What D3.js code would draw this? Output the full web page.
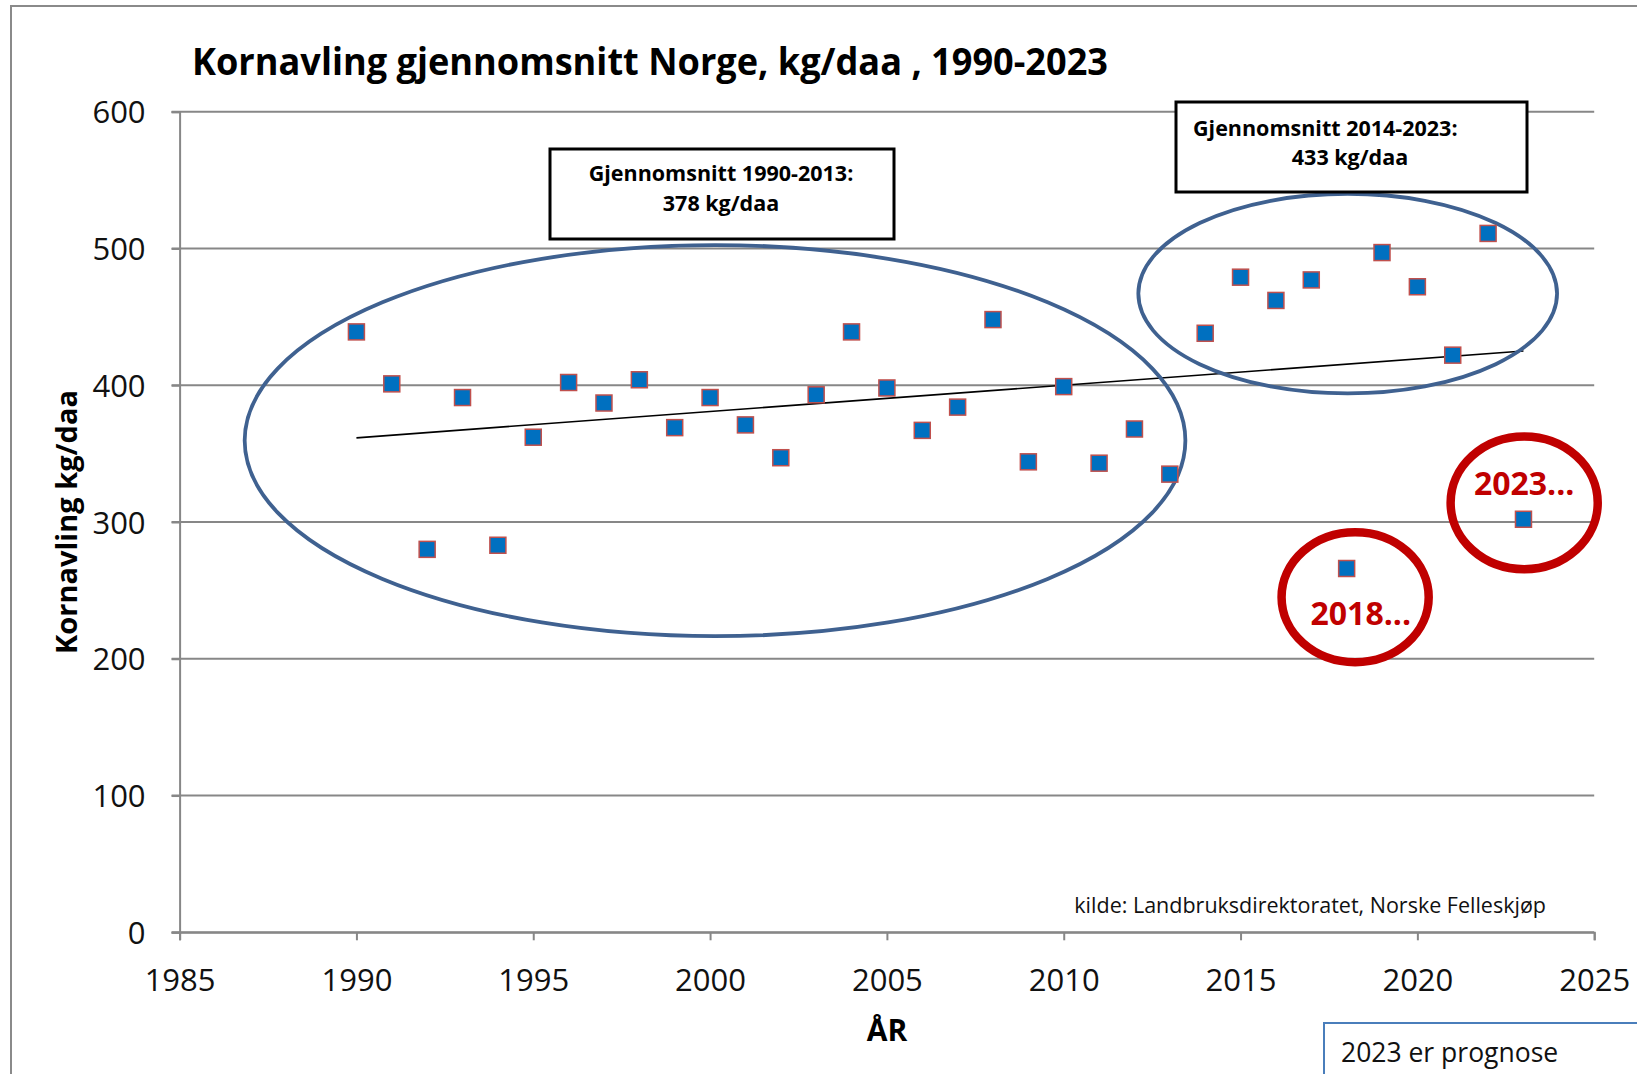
<!DOCTYPE html>
<html lang="no">
<head>
<meta charset="utf-8">
<title>Kornavling gjennomsnitt Norge</title>
<script src="https://d3js.org/d3.v7.min.js"></script>
<style>
  body { margin: 0; background: #fff; font-family: 'Open Sans', sans-serif; }
  svg { display: block; }
</style>
</head>
<body>
<div id="chart"></div>
<script>

/* Data */
/* ==== */

var years = [1990, 1991, 1992, 1993, 1994, 1995, 1996, 1997, 1998, 1999,
             2000, 2001, 2002, 2003, 2004, 2005, 2006, 2007, 2008, 2009,
             2010, 2011, 2012, 2013, 2014, 2015, 2016, 2017, 2018, 2019,
             2020, 2021, 2022, 2023];

var yields = [439, 401, 280, 391, 283, 362, 402, 387, 404, 369,
              391, 371, 347, 393, 439, 398, 367, 384, 448, 344,
              399, 343, 368, 335, 438, 479, 462, 477, 266, 497,
              472, 422, 511, 302];

var yTicks = [0, 100, 200, 300, 400, 500, 600];
var xTicks = [1985, 1990, 1995, 2000, 2005, 2010, 2015, 2020, 2025];

var titleText = 'Kornavling gjennomsnitt Norge, kg/daa , 1990-2023';
var box1Lines = ['Gjennomsnitt 1990-2013:', '378 kg/daa'];
var box2Lines = ['Gjennomsnitt 2014-2023:', '433 kg/daa'];
var redLabels = ['2018...', '2023...'];


/* Setup */
/* ===== */

var width = 1637,
    height = 1074;

var svg = d3.select('#chart').append('svg')
    .attr('width', width)
    .attr('height', height);

var x = d3.scaleLinear().domain([1985, 2025]).range([179.6, 1594.2]);
var y = d3.scaleLinear().domain([0, 600]).range([932.3, 111.7]);

var gridColor = '#878787';

// chart area border (cut off at right and bottom)
svg.append('path')
    .attr('d', 'M11,' + height + 'V6H' + width)
    .attr('fill', 'none')
    .attr('stroke', '#8a8a8a')
    .attr('stroke-width', 2);

// title
svg.append('text')
    .attr('x', 192)
    .attr('y', 75)
    .attr('font-size', 37)
    .attr('font-weight', 700)
    .attr('textLength', 916)
    .attr('lengthAdjust', 'spacingAndGlyphs')
    .text(titleText);


/* Grid and axes */
/* ============= */

svg.append('g').selectAll('line')
  .data(yTicks)
  .join('line')
    .attr('x1', x.range()[0] - 8)
    .attr('x2', x.range()[1])
    .attr('y1', d => y(d))
    .attr('y2', d => y(d))
    .attr('stroke', gridColor)
    .attr('stroke-width', 2);

var yAxis = svg.append('g')
    .attr('transform', 'translate(' + x.range()[0] + ',0)')
    .call(d3.axisLeft(y).tickValues(yTicks).tickSize(8).tickPadding(26));

var xAxis = svg.append('g')
    .attr('transform', 'translate(0,' + y(0) + ')')
    .call(d3.axisBottom(x).tickValues(xTicks).tickFormat(d3.format('d')).tickSize(8).tickPadding(28));

[yAxis, xAxis].forEach(function(g) {
  g.select('.domain').attr('stroke', gridColor).attr('stroke-width', 2);
  g.selectAll('.tick line').attr('stroke', gridColor).attr('stroke-width', 2);
  g.selectAll('.tick text')
    .attr('font-family', "'Open Sans', sans-serif")
    .attr('font-size', 31)
    .attr('fill', '#111');
});
yAxis.selectAll('.tick text').attr('dy', '0.36em');
xAxis.selectAll('.tick text').attr('dy', '0.72em');

// axis titles
svg.append('text')
    .attr('transform', 'translate(77,522) rotate(-90)')
    .attr('text-anchor', 'middle')
    .attr('font-size', 29)
    .attr('font-weight', 700)
    .text('Kornavling kg/daa');

svg.append('text')
    .attr('x', 887)
    .attr('y', 1041)
    .attr('text-anchor', 'middle')
    .attr('font-size', 30)
    .attr('font-weight', 700)
    .text('ÅR');

// source
svg.append('text')
    .attr('x', 1546)
    .attr('y', 913)
    .attr('text-anchor', 'end')
    .attr('font-size', 21.5)
    .attr('fill', '#111')
    .text('kilde: Landbruksdirektoratet, Norske Felleskjøp');


/* Trend line (least squares) */
/* ========================== */

var mx = d3.mean(years),
    my = d3.mean(yields),
    sxy = d3.sum(years, (d, i) => (d - mx) * (yields[i] - my)),
    sxx = d3.sum(years, d => (d - mx) * (d - mx)),
    slope = sxy / sxx,
    icpt = my - slope * mx;

var x0 = d3.min(years), x1 = d3.max(years);

svg.append('line')
    .attr('x1', x(x0)).attr('y1', y(icpt + slope * x0))
    .attr('x2', x(x1)).attr('y2', y(icpt + slope * x1))
    .attr('stroke', '#000')
    .attr('stroke-width', 1.6);


/* Annotation ellipses */
/* =================== */

function ellipse(cx, cy, rx, ry, color, w) {
  svg.append('ellipse')
      .attr('cx', x(cx))
      .attr('cy', y(cy))
      .attr('rx', x(cx + rx) - x(cx))
      .attr('ry', y(cy - ry) - y(cy))
      .attr('fill', 'none')
      .attr('stroke', color)
      .attr('stroke-width', w);
}

ellipse(2000.14, 359.5, 13.3, 143, '#3F6190', 3.8);
ellipse(2018.03, 467, 5.92, 73, '#3F6190', 3.8);
ellipse(2018.24, 245, 2.08, 47.5, '#C00000', 8.5);
ellipse(2023.02, 314, 2.08, 48.5, '#C00000', 8.5);


/* Points */
/* ====== */

var ms = 16;
svg.append('g').selectAll('rect')
  .data(years)
  .join('rect')
    .attr('x', d => x(d) - ms / 2)
    .attr('y', (d, i) => y(yields[i]) - ms / 2)
    .attr('width', ms)
    .attr('height', ms)
    .attr('fill', '#0070C0')
    .attr('stroke', '#C0504D')
    .attr('stroke-width', 1.5);

// red labels
svg.append('text')
    .attr('x', x(2018.4)).attr('y', y(225))
    .attr('text-anchor', 'middle')
    .attr('font-size', 32).attr('font-weight', 700)
    .attr('fill', '#C00000')
    .text(redLabels[0]);

svg.append('text')
    .attr('x', x(2023.02)).attr('y', y(320))
    .attr('text-anchor', 'middle')
    .attr('font-size', 32).attr('font-weight', 700)
    .attr('fill', '#C00000')
    .text(redLabels[1]);


/* Text boxes */
/* ========== */

svg.append('rect')
    .attr('x', 550).attr('y', 149).attr('width', 344).attr('height', 90)
    .attr('fill', '#fff').attr('stroke', '#000').attr('stroke-width', 3);

svg.append('text')
    .attr('x', 721).attr('y', 181)
    .attr('text-anchor', 'middle')
    .attr('font-size', 21.5).attr('font-weight', 700)
    .text(box1Lines[0]);

svg.append('text')
    .attr('x', 721).attr('y', 211)
    .attr('text-anchor', 'middle')
    .attr('font-size', 21.5).attr('font-weight', 700)
    .text(box1Lines[1]);

svg.append('rect')
    .attr('x', 1176).attr('y', 102).attr('width', 351).attr('height', 90)
    .attr('fill', '#fff').attr('stroke', '#000').attr('stroke-width', 3);

svg.append('text')
    .attr('x', 1193).attr('y', 136)
    .attr('font-size', 21.5).attr('font-weight', 700)
    .text(box2Lines[0]);

svg.append('text')
    .attr('x', 1350).attr('y', 165)
    .attr('text-anchor', 'middle')
    .attr('font-size', 21.5).attr('font-weight', 700)
    .text(box2Lines[1]);

// "2023 er prognose" note, cut off at page edge
svg.append('path')
    .attr('d', 'M1324,' + height + 'V1023H' + width)
    .attr('fill', 'none')
    .attr('stroke', '#4A7EBB')
    .attr('stroke-width', 2);

svg.append('text')
    .attr('x', 1341).attr('y', 1062)
    .attr('font-size', 26.5)
    .attr('fill', '#111')
    .text('2023 er prognose');

</script>
</body>
</html>
